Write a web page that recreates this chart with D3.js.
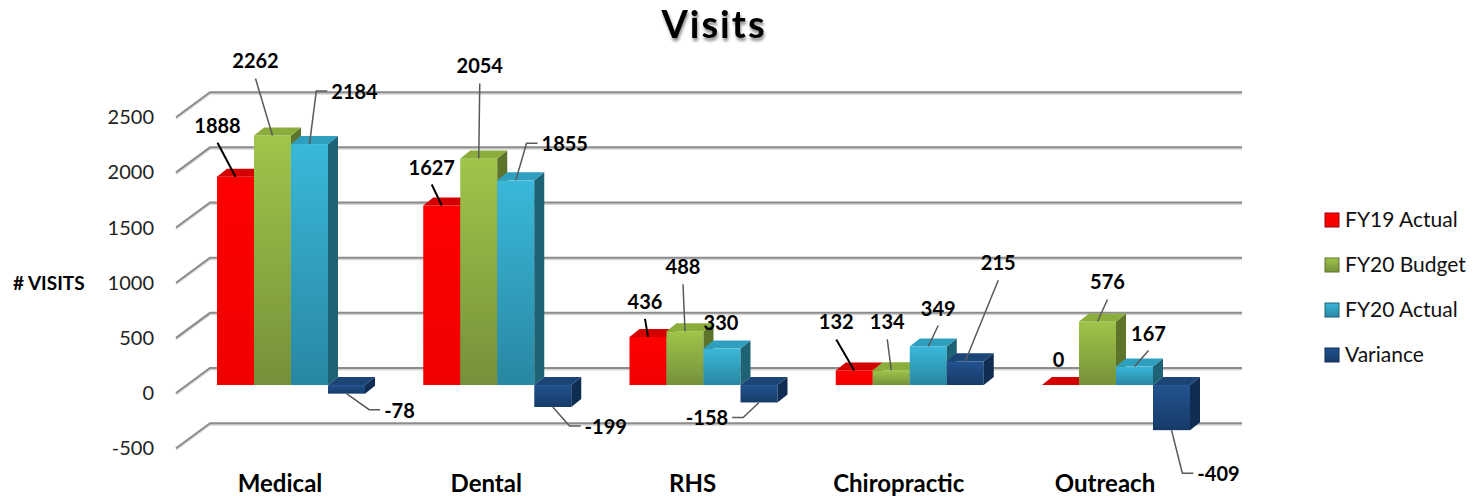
<!DOCTYPE html>
<html>
<head>
<meta charset="utf-8">
<script src="https://cdn.jsdelivr.net/npm/d3@7"></script>
<style>
  body { margin: 0; background: #fff; }
  svg { display: block; font-family: Lato, "Open Sans", sans-serif; }
</style>
</head>
<body>
<svg width="1483" height="496"></svg>
<script>
// chart data
const categories = ["Medical", "Dental", "RHS", "Chiropractic", "Outreach"];
const seriesNames = ["FY19 Actual", "FY20 Budget", "FY20 Actual", "Variance"];
const fy19Actual = [1888, 1627, 436, 132, 0];
const fy20Budget = [2262, 2054, 488, 134, 576];
const fy20Actual = [2184, 1855, 330, 349, 167];
const variance = [-78, -199, -158, 215, -409];
const yTicks = [-500, 0, 500, 1000, 1500, 2000, 2500];

const seriesValues = [fy19Actual, fy20Budget, fy20Actual, variance];

// colours: [front top, front bottom, top face, side face]
const palette = [
  ["#ff0000", "#f00000", "#d40000", "#a80000"],
  ["#9fc54a", "#75913a", "#8aad3c", "#5c752b"],
  ["#3ab8da", "#2887a2", "#2f9fc0", "#1d6275"],
  ["#22528f", "#163b68", "#1b4576", "#0f2c52"]
];

// label nudges from the bar top, [dx, dy, leader type]
const labelNudge = [
  [[-18, -51, "line"], [-10, -38, "line"], [-3, -35, "line"], [-18, -48, "line"], [-2, -25, "none"]],
  [[-17, -74, "line"], [1, -92, "line"], [-2, -64, "line"], [-4, -48, "line"], [10, -39, "line"]],
  [[45, -52, "elbow"], [49, -36, "elbow"], [-1, -26, "none"], [10, -38, "line"], [14, -33, "line"]],
  [[53, 17, "elbow"], [53, 20, "elbow"], [-52, 16, "elbow"], [33, -98, "line"], [47, 44, "elbow"]]
];

const svg = d3.select("svg");
const defs = svg.append("defs");

const depth = {dx: 10, dy: -8};
const wall = {left: 210, right: 1242, frontX: 176, back: -17, front: 8};

const x = d3.scaleBand().domain(categories).range([217, 1190]).paddingInner(0.2824);
const xs = d3.scaleBand().domain(seriesNames).range([0, x.bandwidth()]);
const y = d3.scaleLinear().domain([-500, 2500]).range([440.2, 109.2]);

palette.forEach((c, i) => {
  const g = defs.append("linearGradient").attr("id", "grad" + i)
    .attr("x1", 0).attr("y1", 0).attr("x2", 0).attr("y2", 1);
  g.append("stop").attr("offset", "0%").attr("stop-color", c[0]);
  g.append("stop").attr("offset", "100%").attr("stop-color", c[1]);
});

const shadow = defs.append("filter").attr("id", "shadow")
  .attr("x", "-20%").attr("y", "-20%").attr("width", "140%").attr("height", "160%");
shadow.append("feDropShadow").attr("dx", 1).attr("dy", 3)
  .attr("stdDeviation", 1.5).attr("flood-color", "#000").attr("flood-opacity", 0.45);

// title
svg.append("text")
  .attr("x", 714).attr("y", 38)
  .attr("text-anchor", "middle")
  .style("font-size", "38px").style("font-weight", "bold")
  .style("letter-spacing", "2px")
  .attr("filter", "url(#shadow)")
  .text("Visits");

// gridlines on the back wall plus the slanted side wall
const grid = svg.append("g");
yTicks.forEach((t) => {
  const pts = [[wall.frontX, y(t) + wall.front], [wall.left, y(t) + wall.back], [wall.right, y(t) + wall.back]];
  grid.append("polyline")
    .attr("points", pts.map((p) => [p[0], p[1] + 1.5]).join(" "))
    .attr("fill", "none").attr("stroke", "#d6d6d6").attr("stroke-width", 2);
  grid.append("polyline")
    .attr("points", pts.join(" "))
    .attr("fill", "none").attr("stroke", "#8c8c8c").attr("stroke-width", 2);
});

// y tick labels
svg.append("g").selectAll("text")
  .data(yTicks)
  .enter()
  .append("text")
    .attr("x", 154)
    .attr("y", (d) => y(d) + wall.front)
    .attr("dy", "0.35em")
    .attr("text-anchor", "end")
    .style("font-size", "20px")
    .style("fill", "#222")
    .text((d) => d);

// y axis title
svg.append("text")
  .attr("x", 13).attr("y", 283).attr("dy", "0.35em")
  .style("font-size", "19px").style("font-weight", "bold")
  .text("# VISITS");

// bars, one box each (front, side, top)
const bars = svg.append("g");
const labels = [];
categories.forEach((cat, ci) => {
  seriesNames.forEach((s, si) => {
    const v = seriesValues[si][ci];
    const x0 = x(cat) + xs(s);
    const w = xs.bandwidth();
    const yTop = v >= 0 ? y(v) : y(0);
    const yBot = v >= 0 ? y(0) : y(v);
    const c = palette[si];

    if (yBot - yTop > 0.5) {
      bars.append("rect")
        .attr("x", x0).attr("y", yTop)
        .attr("width", w).attr("height", yBot - yTop)
        .attr("fill", "url(#grad" + si + ")");
      bars.append("polygon")
        .attr("points", [[x0 + w, yTop], [x0 + w + depth.dx, yTop + depth.dy],
          [x0 + w + depth.dx, yBot + depth.dy], [x0 + w, yBot]].join(" "))
        .attr("fill", c[3]);
    }
    bars.append("polygon")
      .attr("points", [[x0, yTop], [x0 + depth.dx, yTop + depth.dy],
        [x0 + w + depth.dx, yTop + depth.dy], [x0 + w, yTop]].join(" "))
      .attr("fill", c[2]);

    const n = labelNudge[si][ci];
    const ax = x0 + w / 2, ay = y(v);
    labels.push({v: v, si: si, ax: ax, ay: ay, lx: ax + n[0], ly: ay + n[1], kind: n[2]});
  });
});

// data labels with leader lines
const labelG = svg.append("g");
labels.forEach((d) => {
  const t = labelG.append("text")
    .attr("x", d.lx).attr("y", d.ly).attr("dy", "0.35em")
    .attr("text-anchor", "middle")
    .style("font-size", "20px").style("font-weight", "bold")
    .text(d.v);
  const half = t.node().getComputedTextLength() / 2;
  let pts = null;
  if (d.kind === "line") {
    const sy = d.ly + (d.ly < d.ay ? 17 : -17);
    pts = [[d.lx, sy], [d.ax, d.ay]];
  } else if (d.kind === "elbow") {
    const side = d.lx > d.ax ? -1 : 1;
    const ex = d.lx + side * (half + 4);
    pts = [[ex, d.ly - 1], [ex + side * 11, d.ly - 1], [d.ax, d.ay]];
  }
  if (pts) {
    labelG.append("polyline")
      .attr("points", pts.join(" "))
      .attr("fill", "none")
      .attr("stroke", d.si === 0 ? "#000" : "#595959")
      .attr("stroke-width", d.si === 0 ? 2 : 1.5);
  }
});

// category labels
svg.append("g").selectAll("text")
  .data(categories)
  .enter()
  .append("text")
    .attr("x", (d) => x(d) + x.bandwidth() / 2 - 11)
    .attr("y", 492)
    .attr("text-anchor", "middle")
    .style("font-size", "24px").style("font-weight", "bold")
    .text((d) => d);

// legend
const legend = svg.append("g").selectAll("g")
  .data(seriesNames)
  .enter()
  .append("g")
    .attr("transform", (d, i) => "translate(1325," + (220 + i * 45) + ")");
legend.append("rect")
  .attr("x", 0).attr("y", -7).attr("width", 14).attr("height", 14)
  .attr("fill", (d, i) => "url(#grad" + i + ")")
  .attr("stroke", (d, i) => palette[i][3]).attr("stroke-width", 1);
legend.append("text")
  .attr("x", 20).attr("y", 0).attr("dy", "0.35em")
  .style("font-size", "21px")
  .style("fill", "#111")
  .text((d) => d);
</script>
</body>
</html>
